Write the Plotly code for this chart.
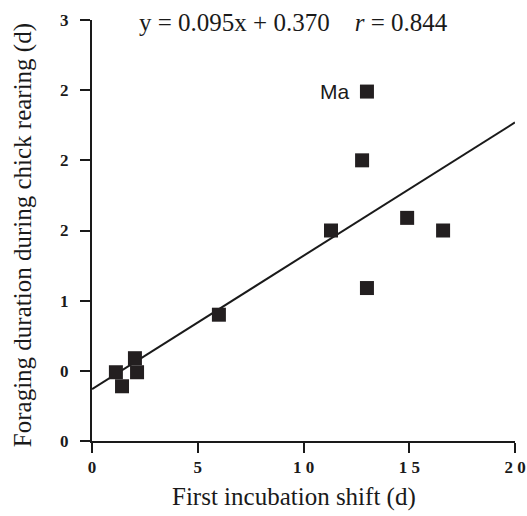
import plotly.graph_objects as go

# Data
shift_days = [1.13, 1.42, 2.03, 2.13, 6.0, 11.3, 12.77, 13.0, 13.0, 14.9, 16.6]
forage_days = [0.49, 0.39, 0.59, 0.49, 0.90, 1.50, 2.00, 2.49, 1.09, 1.59, 1.50]
fit_slope = 0.095
fit_intercept = 0.370
fit_x = [0, 20]
x_ticks = [0, 5, 10, 15, 20]
x_ticktext = ["0", "5", "1 0", "1 5", "2 0"]
y_ticks = [0, 0.5, 1.0, 1.5, 2.0, 2.5, 3.0]
y_ticktext = ["0", "0", "1", "2", "2", "2", "3"]
label_point = (13.0, 2.49, "Ma")

fit_y = [fit_slope * v + fit_intercept for v in fit_x]

fig = go.Figure()
fig.add_trace(go.Scatter(x=fit_x, y=fit_y, mode="lines",
                         line=dict(color="#1a1a1a", width=2), showlegend=False,
                         hoverinfo="skip", cliponaxis=False))
fig.add_trace(go.Scatter(x=shift_days, y=forage_days, mode="markers",
                         marker=dict(symbol="square", size=14, color="#231f20",
                                     line=dict(width=0)), showlegend=False))

serif = "Liberation Serif"
fig.update_layout(
    width=527, height=516,
    margin=dict(l=92, r=12, t=20, b=75),
    paper_bgcolor="white", plot_bgcolor="white",
    font=dict(family=serif, color="#1a1a1a"),
    xaxis=dict(range=[0, 20], tickvals=x_ticks, ticktext=x_ticktext, automargin=False,
               showgrid=False, zeroline=False, showline=True, linecolor="#1a1a1a",
               linewidth=2, ticks="outside", ticklen=10, tickwidth=2, tickcolor="#1a1a1a",
               tickfont=dict(family=serif, size=17, weight="bold")),
    yaxis=dict(range=[0, 3], tickvals=y_ticks, ticktext=y_ticktext, automargin=False,
               showgrid=False, zeroline=False, showline=True, linecolor="#1a1a1a",
               linewidth=2, ticks="outside", ticklen=10, tickwidth=2, tickcolor="#1a1a1a",
               ticklabelstandoff=8,
               tickfont=dict(family=serif, size=17, weight="bold")),
    annotations=[
        dict(text="Foraging duration during chick rearing (d)", xref="paper", yref="paper",
             x=-0.163, y=0.489, xanchor="center", yanchor="middle", textangle=-90,
             showarrow=False, font=dict(family=serif, size=25, color="#1a1a1a")),
        dict(text="First incubation shift (d)", xref="paper", yref="paper",
             x=0.4775, y=-0.133, xanchor="center", yanchor="middle",
             showarrow=False, font=dict(family=serif, size=25, color="#1a1a1a")),
        dict(text="y = 0.095x + 0.370&nbsp;&nbsp;&nbsp;&nbsp;<i>r</i> = 0.844", xref="paper", yref="paper",
             x=0.476, y=0.993, xanchor="center", yanchor="middle",
             showarrow=False, font=dict(family=serif, size=25, color="#1a1a1a")),
        dict(text=label_point[2], x=label_point[0], y=label_point[1], xref="x", yref="y",
             xanchor="right", yanchor="middle", xshift=-16, showarrow=False,
             font=dict(family="Liberation Sans", size=21, color="#1a1a1a")),
    ],
)

fig.write_html("out.html")
